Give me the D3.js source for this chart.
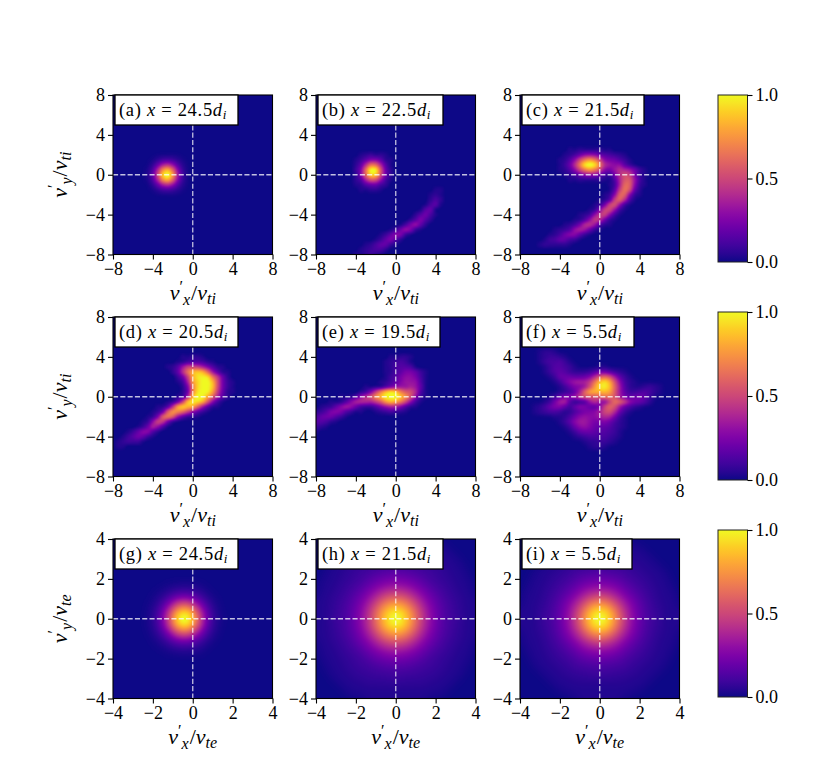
<!DOCTYPE html>
<html>
<head>
<meta charset="utf-8">
<script src="https://cdn.jsdelivr.net/npm/d3@7"></script>
<style>
  html, body { margin: 0; padding: 0; background: #fff; }
  svg { display: block; }
  text { font-family: "Liberation Serif", serif; fill: #000; }
</style>
</head>
<body>
<script>
// Each entry is [row, first column, one base-36 digit per cell], 0..z = 0..1.
const panelA = [
  [13,7,"001222100"],[14,7,"0149b7310"],[15,7,"03amqh610"],[16,7,"14etzn920"],
  [17,7,"03amqh610"],[18,7,"0149b7310"],[19,7,"001222100"]
];
const panelB = [
  [12,7,"0012322100"],[13,7,"0136996210"],[14,7,"026emld510"],[15,7,"039myxj720"],
  [16,7,"029lvui720"],[17,7,"025djib410"],[18,7,"0125774200"],[19,7,"0011221000"],
  [19,24,"11"],[20,23,"121"],[21,23,"242"],[22,22,"1451"],[23,21,"1561"],
  [24,20,"25741"],[25,19,"25852"],[26,17,"148a62"],[27,15,"137a831"],
  [28,13,"1369831"],[29,12,"136852"],[30,10,"1246631"],[31,9,"123442"],[32,8,"112321"]
];
const panelC = [
  [11,8,"0011222221100"],[12,8,"01247aba74210"],[12,16,"654321"],
  [13,8,"125ahnqnha521"],[13,17,"a87531"],[14,8,"137enwzwne731"],[14,17,"ebaa631"],
  [15,8,"125ahnqnha521"],[15,18,"8bedb731"],[16,8,"01247aba74210"],[16,18,"38eig931"],
  [17,8,"0011222221100"],[17,18,"15djjb41"],[18,18,"14dlka31"],[19,18,"16gmi72"],
  [20,17,"13akka31"],[21,16,"126gke51"],[22,15,"138gib41"],[23,14,"139ghb41"],
  [24,12,"124afga41"],[25,11,"125afe831"],[26,9,"1248deb521"],[27,7,"1235acb731"],
  [28,6,"124799631"],[29,5,"13466431"],[30,4,"1222221"]
];
const panelD = [
  [8,14,"11221"],[9,13,"12455421"],[10,11,"125bghgd9521"],[11,12,"26emsuslc621"],
  [12,13,"38hsxywnf72"],[13,13,"14dqwzzti831"],[14,14,"29nwzzui831"],[15,14,"28oxzyrg721"],
  [16,13,"24etzyskc52"],[17,11,"138htxwsja41"],[18,9,"126fqutrkc621"],[19,8,"138jpolgb631"],
  [20,7,"139jmjb6321"],[21,6,"13agf831"],[22,5,"137ca51"],[23,3,"1369952"],
  [24,2,"1357631"],[25,1,"123331"],[26,1,"11"]
];
const panelE = [
  [8,15,"11221"],[9,14,"123431"],[10,14,"1245541"],[11,14,"124688631"],
  [12,14,"1358aa841"],[13,13,"12469bba51"],[14,10,"112369bccdb61"],[15,9,"249gntwuokid51"],
  [16,5,"1125aeiotyzzupia31"],[17,3,"11259cdddgkqtrnha41"],[18,1,"12369ba743358bdc9521"],
  [19,0,"2358985311001234321"],[20,0,"4677531"],[21,0,"55421"],[22,0,"321"],[23,0,"1"]
];
const panelF = [
  [7,4,"1221"],[8,4,"123321"],[9,4,"1344531"],[10,5,"1355431"],[10,16,"11"],
  [11,5,"1356532"],[11,12,"2235775321"],[12,6,"137776679ekmjc631"],[13,7,"137acddgnvytja421"],
  [14,8,"13699biryzvlc52112321"],[15,8,"1236cmtutuskc63345421"],[16,6,"1369achkjiknmjc7678631"],
  [17,5,"138de5123bfb8gnmib87521".slice(0,22)],[18,3,"12479963 7a9658imjb6421".replace(" ","")],[19,3,"123443124689adije731"],
  [20,7,"11247abaaced831"],[21,8,"136acca8897421"],[22,9,"137ab97665321"],[23,10,"13677655431"],
  [24,11,"1234444321"],[25,13,"1223321"],[26,14,"1221"]
];
const panelG = [
  [10,8,"00001111110000"],[11,8,"00112333321000"],[12,8,"01135787642100"],[13,8,"01359dfeb84210"],
  [14,8,"1249ekonic7310"],[15,8,"126bjrwuog9410"],[16,8,"136dluzxria421"],[17,8,"126bjrwuog9410"],
  [18,8,"1249ekonic7310"],[19,8,"01359dfeb84210"],[20,8,"01135787642100"],[21,8,"00112333321000"],
  [22,8,"00001111110000"]
];
// Panels h and i are round: one quadrant, centre cell first, mirrored when drawn.
const quadrantH = [
  "zyuqlgca764332111","yxtpkgc9754332111","utrnjfb9754322111","qpnkgda8654322111",
  "lkjgeb97643322111","ggfdb986543221110","ccba9865433221110","a9987654332211110",
  "77766543322211100","66554433322111100","44443333222111000","33333322221111000",
  "33222222211110000","22222221111100000","11111111111000000","11111111110000000","11111110000000000"
];
const quadrantI = [
  "zxtojeb8653321111","xwsoiea8643321111","tsplgda7643221111","oolieb97543221110",
  "jigec986533211110","eecb9865432211110","aaa98654332211100","88776544322111100",
  "66655433222111000","55444332221111000","33333322211110000","33322222111100000",
  "22222211111000000","11111111110000000","11111111100000000","11111110000000000","11111000000000000"
];

const panelTags = ["a","b","c","d","e","f","g","h","i"];
const panelX = ["24.5","22.5","21.5","20.5","19.5","5.5","24.5","21.5","5.5"];
const ionTicks = [-8,-4,0,4,8];
const electronTicks = [-4,-2,0,2,4];
const barTicks = [0,0.5,1];

const width = 830, height = 782;
const lefts = [113,316,520];
const tops = [95,317,539];
const size = 159.5;
const boxWidths = [123,125,122,123,122,112,123,125,110];
const bars = [[95,262],[312,480],[530,697]];

const svg = d3.select("body").append("svg").attr("width",width).attr("height",height);
const color = d3.scaleSequential(d3.interpolatePlasma).domain([0,1]).clamp(true);
const fmt = d => String(d).replace("-","\u2212");

function gridFromEntries(entries){
  const grid = d3.range(33).map(() => new Array(33).fill(0));
  entries.forEach(([r,c,s]) => {
    for(let i=0;i<s.length;i++){
      if(c+i<33) grid[r][c+i] = Math.max(grid[r][c+i], parseInt(s[i],36)/35);
    }
  });
  return grid;
}
function gridFromQuadrant(q){
  const grid = d3.range(33).map(() => new Array(33).fill(0));
  for(let r=0;r<33;r++) for(let c=0;c<33;c++){
    grid[r][c] = parseInt(q[Math.abs(r-16)][Math.abs(c-16)],36)/35;
  }
  return grid;
}
// soften the steps of the hand-read digits, the way the plotted data is soft
function soften(grid,w,passes,renorm){
  let g = grid;
  const at = (m,r,c) => m[Math.max(0,Math.min(32,r))][Math.max(0,Math.min(32,c))];
  for(let p=0;p<passes;p++){
    const h = g.map((row,r) => row.map((v,c) => w*at(g,r,c-1)+(1-2*w)*v+w*at(g,r,c+1)));
    g = h.map((row,r) => row.map((v,c) => w*at(h,r-1,c)+(1-2*w)*v+w*at(h,r+1,c)));
  }
  if(renorm){
    const top = d3.max(g,row => d3.max(row));
    g = g.map(row => row.map(v => v/top));
  }
  return g;
}

// smooth shading between grid cells, like imshow with interpolation
function cubic(a,b,c,d,t){
  return b + 0.5*t*(c-a + t*(2*a-5*b+4*c-d + t*(3*(b-c)+d-a)));
}
function sample(grid,gx,gy){
  const at = (r,c) => grid[Math.max(0,Math.min(32,r))][Math.max(0,Math.min(32,c))];
  const c0 = Math.floor(gx), r0 = Math.floor(gy), tx = gx-c0, ty = gy-r0;
  const row = r => cubic(at(r,c0-1),at(r,c0),at(r,c0+1),at(r,c0+2),tx);
  return cubic(row(r0-1),row(r0),row(r0+1),row(r0+2),ty);
}
function heatmapUrl(grid){
  const n = 160;
  const canvas = document.createElement("canvas");
  canvas.width = n; canvas.height = n;
  const ctx = canvas.getContext("2d");
  const img = ctx.createImageData(n,n);
  const lut = d3.range(256).map(i => d3.rgb(color(i/255)));
  for(let y=0;y<n;y++) for(let x=0;x<n;x++){
    const v = sample(grid,(x+0.5)/n*32,(y+0.5)/n*32);
    const k = lut[Math.max(0,Math.min(255,Math.round(v*255)))];
    const p = (y*n+x)*4;
    img.data[p]=k.r; img.data[p+1]=k.g; img.data[p+2]=k.b; img.data[p+3]=255;
  }
  ctx.putImageData(img,0,0);
  return canvas.toDataURL();
}

// v'_x / v_ti style label
function velocityLabel(sel,comp,sp){
  const big = 22, small = 16;
  sel.attr("font-size",big);
  sel.append("tspan").attr("font-style","italic").text("v");
  sel.append("tspan").attr("font-size",small).attr("dy",-8).text("\u2032");
  sel.append("tspan").attr("font-size",small).attr("font-style","italic").attr("dy",13).text(comp);
  sel.append("tspan").attr("dy",-5).attr("dx",1).text("/");
  sel.append("tspan").attr("font-style","italic").text("v");
  sel.append("tspan").attr("font-size",small).attr("font-style","italic").attr("dy",4).text(sp);
}

const grids = [
  soften(gridFromEntries(panelA),0.25,1,true),
  gridFromEntries(panelB),
  gridFromEntries(panelC),
  gridFromEntries(panelD),
  gridFromEntries(panelE),
  soften(gridFromEntries(panelF),0.12,1,false),
  soften(gridFromEntries(panelG),0.25,3,true),
  soften(gridFromQuadrant(quadrantH),0.25,2,true),
  soften(gridFromQuadrant(quadrantI),0.25,2,true)
];

grids.forEach((grid,i) => {
  const col = i%3, row = Math.floor(i/3);
  const ticks = row===2 ? electronTicks : ionTicks;
  const lim = ticks[4];
  const sp = row===2 ? "te" : "ti";
  const x = d3.scaleLinear().domain([-lim,lim]).range([0,size]);
  const y = d3.scaleLinear().domain([-lim,lim]).range([size,0]);
  const g = svg.append("g").attr("transform",`translate(${lefts[col]},${tops[row]})`);

  g.append("image").attr("width",size).attr("height",size)
    .attr("preserveAspectRatio","none").attr("href",heatmapUrl(grid));

  // zero lines
  g.append("line").attr("x1",0).attr("x2",size).attr("y1",y(0)).attr("y2",y(0));
  g.append("line").attr("x1",x(0)).attr("x2",x(0)).attr("y1",size).attr("y2",0);
  g.selectAll("line").attr("stroke","#fff").attr("stroke-opacity",0.75)
    .attr("stroke-width",1.3).attr("stroke-dasharray","5.1,2.2");

  g.append("rect").attr("width",size).attr("height",size)
    .attr("fill","none").attr("stroke","#000").attr("stroke-width",1.1);

  const xAxis = g.append("g").attr("transform",`translate(0,${size})`)
    .call(d3.axisBottom(x).tickValues(ticks).tickFormat(fmt).tickSize(5).tickPadding(3));
  const yAxis = g.append("g")
    .call(d3.axisLeft(y).tickValues(ticks).tickFormat(fmt).tickSize(5).tickPadding(3));
  [xAxis,yAxis].forEach(a => {
    a.selectAll("text").attr("font-size",18).attr("font-family","Liberation Serif");
    a.selectAll("line").attr("stroke","#000").attr("stroke-width",1.1);
    a.select(".domain").remove();
  });

  // panel tag
  const box = g.append("g").attr("transform",`translate(2,0)`);
  box.append("rect").attr("width",boxWidths[i]).attr("height",30)
    .attr("fill","#fff").attr("stroke","#000").attr("stroke-width",1.3);
  const t = box.append("text").attr("x",4).attr("y",21).attr("font-size",18.5)
    .attr("letter-spacing",0.7).attr("fill","#222");
  t.append("tspan").text(`(${panelTags[i]}) `);
  t.append("tspan").attr("font-style","italic").text("x");
  t.append("tspan").text(` = ${panelX[i]}`);
  t.append("tspan").attr("font-style","italic").text("d");
  t.append("tspan").attr("font-style","italic").attr("font-size",13).attr("dy",3).text("i");

  g.append("text").attr("x",size/2).attr("y",size+45).attr("text-anchor","middle")
    .call(velocityLabel,"x",sp);
  if(col===0){
    g.append("text").attr("text-anchor","middle")
      .attr("transform",`translate(-46,${size/2}) rotate(-90)`)
      .call(velocityLabel,"y",sp);
  }
});

// colour bars
const defs = svg.append("defs");
const grad = defs.append("linearGradient").attr("id","plasmaBar")
  .attr("x1",0).attr("x2",0).attr("y1",1).attr("y2",0);
d3.range(0,1.001,0.05).forEach(s => {
  grad.append("stop").attr("offset",s).attr("stop-color",color(s));
});
bars.forEach(([top,bottom]) => {
  const scale = d3.scaleLinear().domain([0,1]).range([bottom,top]);
  const g = svg.append("g").attr("transform","translate(718,0)");
  g.append("rect").attr("y",top).attr("width",29.5).attr("height",bottom-top)
    .attr("fill","url(#plasmaBar)").attr("stroke","#222").attr("stroke-width",1);
  const a = g.append("g").attr("transform","translate(29.5,0)")
    .call(d3.axisRight(scale).tickValues(barTicks).tickFormat(d3.format(".1f")).tickSize(5).tickPadding(3));
  a.selectAll("text").attr("font-size",18).attr("font-family","Liberation Serif");
  a.selectAll("line").attr("stroke","#000").attr("stroke-width",1.1);
  a.select(".domain").remove();
});
</script>
</body>
</html>
